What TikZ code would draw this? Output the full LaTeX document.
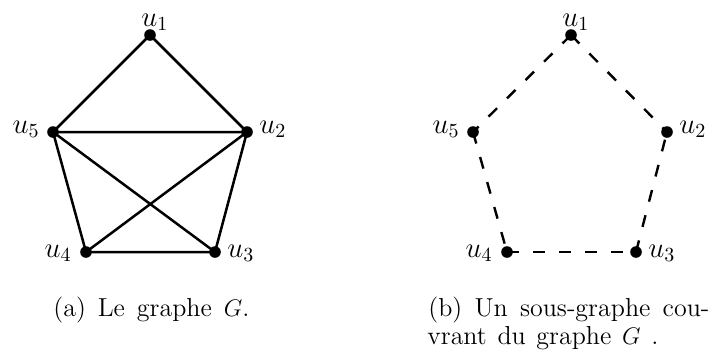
\documentclass[tikz,border=0pt]{standalone}
\usetikzlibrary{calc}
\tikzset{
  vdot/.style={circle,fill=black,inner sep=0pt,minimum size=5.8pt},
  lab/.style={inner sep=0pt,font=\fontsize{14.4}{17}\selectfont},
  edge/.style={line width=1.25pt},
  dedge/.style={line width=1.2pt,dash pattern=on 6pt off 7pt},
  captext/.style={inner sep=0pt,font=\fontsize{13}{15}\selectfont}
}
\begin{document}
\begin{tikzpicture}[x=0.5pt,y=-0.5pt]
\useasboundingbox (0,0) rectangle (710,355);
% left graph
\coordinate (l1) at (150,35);
\coordinate (l2) at (247,132);
\coordinate (l3) at (215,252);
\coordinate (l4) at (86,252);
\coordinate (l5) at (53,132);
\draw[edge] (l1) -- (l5) (l1) -- (l2) (l5) -- (l2) (l5) -- (l4) (l5) -- (l3)
            (l2) -- (l4) (l2) -- (l3) (l4) -- (l3);
\foreach \i in {1,...,5} {\node[vdot] (dl\i) at (l\i) {};}
\node[lab,anchor=base west] (tl1) at ($(l1)+(-9,-9)$) {$u_1$};
\node[lab,anchor=base west] (tl2) at ($(l2)+(12,1)$) {$u_2$};
\node[lab,anchor=base west] (tl3) at ($(l3)+(12,5)$) {$u_3$};
\node[lab,anchor=base east] (tl4) at ($(l4)+(-14,5)$) {$u_4$};
\node[lab,anchor=base east] (tl5) at ($(l5)+(-13,1)$) {$u_5$};
% right graph
\coordinate (r1) at (571,35);
\coordinate (r2) at (667,132);
\coordinate (r3) at (636,252);
\coordinate (r4) at (507,252);
\coordinate (r5) at (473,132);
\draw[dedge] (r1) -- (r2);
\draw[dedge] (r3) -- (r2);
\draw[dedge] (r4) -- (r3);
\draw[dedge] (r5) -- (r4);
\draw[dedge] (r1) -- (r5);
\foreach \i in {1,...,5} {\node[vdot] (dr\i) at (r\i) {};}
\node[lab,anchor=base west] (tr1) at ($(r1)+(-9,-9)$) {$u_1$};
\node[lab,anchor=base west] (tr2) at ($(r2)+(12,1)$) {$u_2$};
\node[lab,anchor=base west] (tr3) at ($(r3)+(12,5)$) {$u_3$};
\node[lab,anchor=base east] (tr4) at ($(r4)+(-14,5)$) {$u_4$};
\node[lab,anchor=base east] (tr5) at ($(r5)+(-13,1)$) {$u_5$};
% captions
\node[captext,anchor=base west] (capa) at (53,316) {\makebox[98pt][s]{(a) Le graphe $G$.}};
\node[captext,anchor=base west] (capb1) at (428,316) {\makebox[140.5pt][s]{(b) Un sous-graphe cou-}};
\node[captext,anchor=base west] (capb2) at (427,344) {\makebox[115.5pt][s]{vrant du graphe $G$ .}};
\end{tikzpicture}
\end{document}
